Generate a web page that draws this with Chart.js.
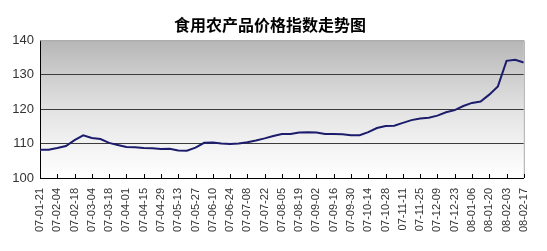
<!DOCTYPE html>
<html>
<head>
<meta charset="utf-8">
<script src="https://cdn.jsdelivr.net/npm/chart.js@4/dist/chart.umd.min.js"></script>
<style>
  html, body { margin: 0; padding: 0; background: #fff; }
</style>
</head>
<body>
<canvas id="grafico" width="547" height="251"></canvas>
<script>
// rotulos do eixo x (a cada duas semanas)
var tickLabels = ['07-01-21', '07-02-04', '07-02-18', '07-03-04', '07-03-18', '07-04-01', '07-04-15',
    '07-04-29', '07-05-13', '07-05-27', '07-06-10', '07-06-24', '07-07-08', '07-07-22', '07-08-05',
    '07-08-19', '07-09-02', '07-09-16', '07-09-30', '07-10-14', '07-10-28', '07-11-11', '07-11-25',
    '07-12-09', '07-12-23', '08-01-06', '08-01-20', '08-02-03', '08-02-17'];

// indice semanal
var weeklyIndex = [108.2, 108.2, 108.7, 109.3, 111.0, 112.4, 111.6, 111.3, 110.2, 109.6,
    109.0, 108.9, 108.7, 108.6, 108.4, 108.5, 108.0, 107.9, 108.8, 110.2,
    110.3, 110.0, 109.9, 110.0, 110.4, 110.9, 111.5, 112.2, 112.8, 112.8,
    113.2, 113.3, 113.2, 112.8, 112.8, 112.7, 112.4, 112.4, 113.3, 114.5,
    115.1, 115.2, 116.0, 116.8, 117.3, 117.5, 118.1, 119.1, 119.7, 120.9,
    121.8, 122.2, 124.2, 126.6, 134.0, 134.3, 133.5];

var yTicks = [100, 110, 120, 130, 140];

var points = weeklyIndex.map(function (v, i) { return { x: i, y: v }; });

// fundo em degrade, borda de cima/direita e marcas do eixo x
var plotDecor = {
    id: 'plotDecor',
    beforeDraw: function (chart) {
        var a = chart.chartArea, ctx = chart.ctx;
        var g = ctx.createLinearGradient(0, a.top, 0, a.bottom);
        g.addColorStop(0, '#b6b6b6');
        g.addColorStop(0.25, '#cdcdcd');
        g.addColorStop(0.5, '#e2e2e2');
        g.addColorStop(0.75, '#f2f2f2');
        g.addColorStop(1, '#ffffff');
        ctx.save();
        ctx.fillStyle = g;
        ctx.fillRect(a.left, a.top, a.right - a.left, a.bottom - a.top);
        ctx.restore();
    },
    afterDraw: function (chart) {
        var a = chart.chartArea, ctx = chart.ctx, xs = chart.scales.x;
        ctx.save();
        ctx.strokeStyle = '#a8a8a8';
        ctx.lineWidth = 1;
        ctx.beginPath();
        ctx.moveTo(a.left, a.top + 0.5);
        ctx.lineTo(a.right + 0.5, a.top + 0.5);
        ctx.lineTo(a.right + 0.5, a.bottom);
        ctx.stroke();
        ctx.strokeStyle = '#000';
        ctx.beginPath();
        xs.ticks.forEach(function (t) {
            var px = Math.round(xs.getPixelForValue(t.value)) + 0.5;
            ctx.moveTo(px, a.bottom);
            ctx.lineTo(px, a.bottom - 4);
        });
        ctx.stroke();
        ctx.restore();
    }
};

var data = {
    datasets: [{
        label: '食用农产品价格指数',
        data: points,
        borderColor: '#1c1c6c',
        borderWidth: 2,
        pointRadius: 0,
        tension: 0,
        fill: false
    }]
};

var options = {
    responsive: false,
    animation: false,
    layout: { padding: { left: 12, right: 19, top: 0, bottom: 0 } },
    plugins: {
        legend: { display: false },
        tooltip: { enabled: false },
        title: {
            display: true,
            text: '食用农产品价格指数走势图',
            color: '#000',
            font: { family: '"Noto Sans CJK SC"', size: 16, weight: 'bold' },
            padding: { top: 15, bottom: 6 }
        }
    },
    scales: {
        x: {
            type: 'linear',
            min: 0,
            max: weeklyIndex.length - 1,
            afterFit: function (scale) { scale.height = 73; },
            afterBuildTicks: function (scale) {
                scale.ticks = tickLabels.map(function (l, i) { return { value: i * 2 }; });
            },
            ticks: {
                autoSkip: false,
                minRotation: 90,
                maxRotation: 90,
                padding: 10,
                color: '#333',
                font: { family: '"Liberation Sans"', size: 11 },
                callback: function (v) { return tickLabels[v / 2]; }
            },
            grid: { display: false, drawTicks: false },
            border: { display: true, color: '#000', width: 1 }
        },
        y: {
            min: 100,
            max: 140,
            afterFit: function (scale) { scale.width = 28; },
            afterBuildTicks: function (scale) {
                scale.ticks = yTicks.map(function (v) { return { value: v }; });
            },
            ticks: {
                padding: 6,
                color: '#333',
                font: { family: '"Liberation Sans"', size: 13 }
            },
            grid: {
                drawTicks: false,
                color: function (c) {
                    if (c.tick && (c.tick.value === 100 || c.tick.value === 140)) return 'rgba(0,0,0,0)';
                    return '#3c3c3c';
                },
                lineWidth: 1
            },
            border: { display: true, color: '#000', width: 1 }
        }
    }
};

var ctx = document.querySelector('#grafico');
var lineChart = new Chart(ctx, {
    type: 'line',
    data: data,
    options: options,
    plugins: [plotDecor]
});
</script>
</body>
</html>
